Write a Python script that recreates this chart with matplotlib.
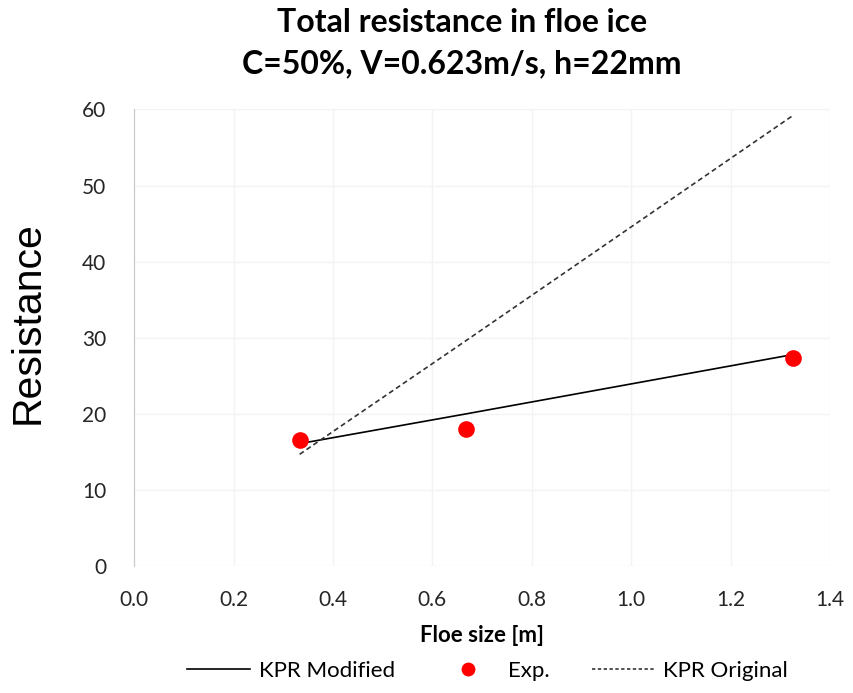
import matplotlib.pyplot as plt
from matplotlib.lines import Line2D

# floe size [m]
floe_size = [0.333, 0.667, 1.325]
exp_resistance = [16.6, 18.0, 27.4]
kpr_modified = [16.1, 20.0, 27.8]
kpr_original = [14.7, 29.6, 59.2]

x_ticks = [0.0, 0.2, 0.4, 0.6, 0.8, 1.0, 1.2, 1.4]
y_ticks = [0, 10, 20, 30, 40, 50, 60]

fig = plt.figure(figsize=(8.54, 6.93), dpi=100)
ax = fig.add_axes([0.157, 0.183, 0.815, 0.659])

ax.plot(floe_size, kpr_modified, color="black", linewidth=1.2, label="KPR Modified", zorder=3)
ax.plot(floe_size, exp_resistance, "o", color="#FF0000", markersize=12,
        markeredgewidth=0, label="Exp.", zorder=4)
ax.plot(floe_size, kpr_original, color="#333333", linewidth=1.2, linestyle=(0, (3, 2)),
        label="KPR Original", zorder=3)

ax.set_xlim(0, 1.4)
ax.set_ylim(0, 60)
ax.set_xticks(x_ticks)
ax.set_xticklabels([f"{t:.1f}" for t in x_ticks])
ax.set_yticks(y_ticks)
ax.tick_params(length=0, labelsize=15)
ax.tick_params(axis="x", pad=17)
ax.tick_params(axis="y", pad=20)
for lbl in ax.get_xticklabels() + ax.get_yticklabels():
    lbl.set_fontfamily("Lato")
    lbl.set_color("#262626")

ax.grid(True, color="#f3f3f3", linewidth=1)
ax.set_axisbelow(True)
for side in ["top", "right", "bottom"]:
    ax.spines[side].set_visible(False)
ax.spines["left"].set_color("#c8c8c8")

ax.set_xlabel("Floe size [m]", fontsize=16, fontweight="bold", fontfamily="Lato",
              labelpad=11)
ax.set_ylabel("Resistance", fontsize=29.5, fontfamily="Liberation Sans")
ax.yaxis.set_label_coords(-0.125, 0.533)

fig.suptitle("Total resistance in floe ice\nC=50%, V=0.623m/s, h=22mm",
             fontsize=23, fontweight="bold", fontfamily="Lato", x=0.541, y=0.988,
             linespacing=1.5)

handles = [
    Line2D([], [], color="black", linewidth=1.2),
    Line2D([], [], marker="o", color="#FF0000", linestyle="none", markersize=10,
           markeredgewidth=0),
    Line2D([], [], color="#333333", linewidth=1.2, linestyle=(0, (2, 1.5))),
]
fig.legend(handles, ["KPR Modified", "Exp.", "KPR Original"], loc="center",
           bbox_to_anchor=(0.571, 0.032), ncol=3, frameon=False,
           prop={"family": "Lato", "size": 16}, handlelength=2.8, columnspacing=1.9,
           handletextpad=0.4)

fig.savefig("out.png", dpi=100)
